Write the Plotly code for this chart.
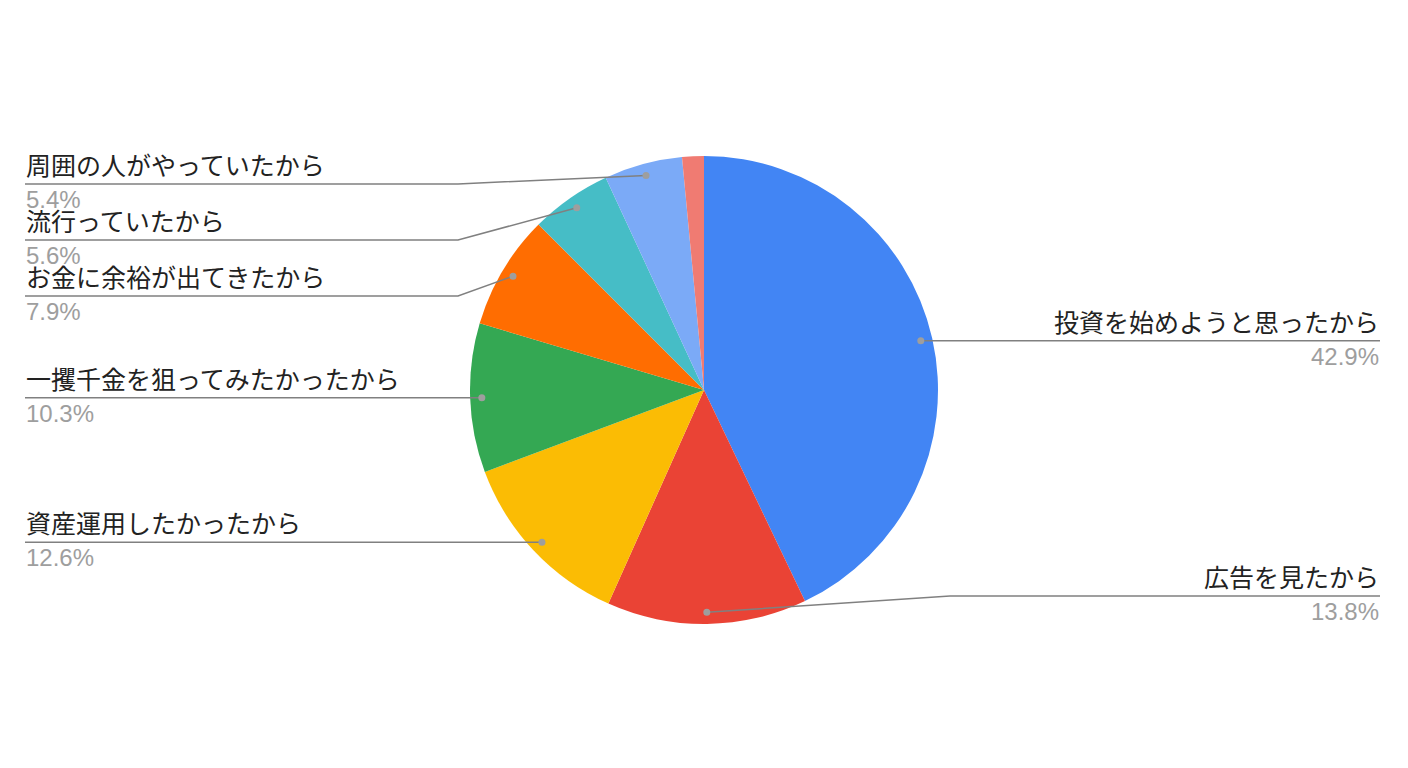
import math
import plotly.graph_objects as go

# data, in the order the slices run clockwise from 12 o'clock
labels = [
    "投資を始めようと思ったから",
    "広告を見たから",
    "資産運用したかったから",
    "一攫千金を狙ってみたかったから",
    "お金に余裕が出てきたから",
    "流行っていたから",
    "周囲の人がやっていたから",
    "その他",
]
values = [42.9, 13.8, 12.6, 10.3, 7.9, 5.6, 5.4, 1.5]
show_label = [True, True, True, True, True, True, True, False]
colours = ["#4285F4", "#EA4335", "#FBBC04", "#34A853", "#FF6D01",
           "#46BDC6", "#7BAAF7", "#F07B72"]

W, H = 1408, 768
PAGE_PAD = 8                     # body margin of the html page
CX, CY, R = 704, 390, 234        # pie centre / radius in page pixels
DOT_R = 0.95 * R                 # where the leader line starts
ELBOW = R + 12                   # horizontal distance of the bend from the centre
LEFT_X, RIGHT_X = 25, 1380       # outer ends of the leader lines
TOP_Y, BOTTOM_Y, GAP = 184, 596, 56

FONT = "Liberation Sans, Noto Sans CJK JP, sans-serif"
LINE_COL = "#808080"
DOT_COL = "#9E9E9E"


def px(x, y):
    # page pixels -> paper coordinates
    return (x - PAGE_PAD) / W, 1 - (y - PAGE_PAD) / H


dom_x0, dom_y1 = px(CX - R, CY - R)
dom_x1, dom_y0 = px(CX + R, CY + R)
fig = go.Figure(go.Pie(
    labels=labels, values=values, sort=False, direction="clockwise", rotation=0,
    marker=dict(colors=colours, line=dict(width=0)),
    textinfo="none", hoverinfo="label+percent", showlegend=False,
    domain=dict(x=[dom_x0, dom_x1], y=[dom_y0, dom_y1]),
))

# mid angle of every slice -> dot position
total = sum(values)
items = []
acc = 0
for lab, v, show in zip(labels, values, show_label):
    mid = (acc + v / 2) / total * 2 * math.pi
    acc += v
    if not show:
        continue
    dx, dy = CX + DOT_R * math.sin(mid), CY - DOT_R * math.cos(mid)
    items.append(dict(label=lab, pct=f"{v}%", dx=dx, dy=dy, left=dx < CX))

# simple collision avoidance for the label rows on each side
for side in (True, False):
    row = sorted([it for it in items if it["left"] == side], key=lambda it: it["dy"])
    prev = None
    for it in row:
        y = max(it["dy"], TOP_Y if prev is None else prev + GAP)
        it["ly"] = min(y, BOTTOM_Y)
        prev = it["ly"]

shapes, annotations = [], []
for it in items:
    left = it["left"]
    end_x = LEFT_X if left else RIGHT_X
    if abs(it["ly"] - it["dy"]) < 1:
        path_pts = [(it["dx"], it["dy"]), (end_x, it["dy"])]
    else:
        bend_x = CX - ELBOW if left else CX + ELBOW
        path_pts = [(it["dx"], it["dy"]), (bend_x, it["ly"]), (end_x, it["ly"])]
    path = "M " + " L ".join(f"{px(x, y)[0]},{px(x, y)[1]}" for x, y in path_pts)
    shapes.append(dict(type="path", path=path, xref="paper", yref="paper",
                       line=dict(color=LINE_COL, width=1.5), layer="above"))
    x0, y0 = px(it["dx"] - 3.5, it["dy"] - 3.5)
    x1, y1 = px(it["dx"] + 3.5, it["dy"] + 3.5)
    shapes.append(dict(type="circle", xref="paper", yref="paper", x0=x0, y0=y0, x1=x1, y1=y1,
                       fillcolor=DOT_COL, line=dict(width=0), layer="above"))
    ax, ay = px(end_x, it["ly"])
    anchor = "left" if left else "right"
    annotations.append(dict(x=ax, y=ay + 3 / H, xref="paper", yref="paper", text=it["label"],
                            showarrow=False, xanchor=anchor, yanchor="bottom",
                            font=dict(size=25, color="#222222", family=FONT), borderpad=0))
    annotations.append(dict(x=ax, y=ay - 1 / H, xref="paper", yref="paper", text=it["pct"],
                            showarrow=False, xanchor=anchor, yanchor="top",
                            font=dict(size=24, color="#9E9E9E", family=FONT), borderpad=0))

fig.update_layout(
    width=W, height=H, margin=dict(l=0, r=0, t=0, b=0),
    paper_bgcolor="white", plot_bgcolor="white",
    shapes=shapes, annotations=annotations,
    font=dict(family=FONT),
)

fig.write_html("out.html")
